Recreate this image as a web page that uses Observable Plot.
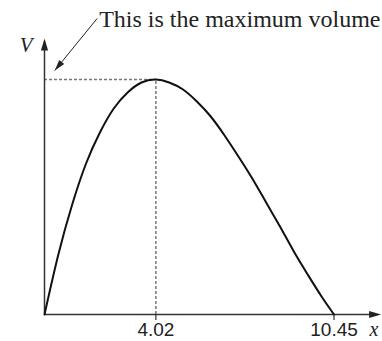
<!DOCTYPE html>
<html>
<head>
<meta charset="utf-8">
<script src="https://cdn.jsdelivr.net/npm/d3@7"></script>
<script src="https://cdn.jsdelivr.net/npm/@observablehq/plot@0.6"></script>
<style>
  html, body { margin: 0; padding: 0; background: #fff; }
  #chart svg { display: block; }
</style>
</head>
<body>
<div id="chart"></div>
<script>
// Curve V(x) (V in arbitrary volume units)
const xs = [0, 0.5, 1, 1.5, 2, 2.5, 3, 3.5, 4.02, 4.5, 5, 5.5, 6, 6.5, 7, 7.5, 8, 8.5, 9, 9.5, 10, 10.45];
const vs = [0, 60, 110, 151, 182, 206, 222, 232, 235, 232, 225, 213, 198, 179, 158, 136, 112, 88, 63, 40, 18, 0];

// Marked values
const tickValues = [4.02, 10.45];
const tickLabels = ["4.02", "10.45"];
const peakX = 4.02;
const peakV = 235;

// Axis extents (data units)
const xAxisEnd = 12.15;
const vAxisEnd = 276;

// Annotation
const noteText = "This is the maximum volume";
const noteFrom = [1.90, 296];
const noteTo = [0.37, 244];

const curve = xs.map((x, i) => ({x, V: vs[i]}));

const W = 382, H = 341, mL = 44, mR = 0, mT = 14, mB = 27;
const xDomain = [0, 12.2], yDomain = [0, 300];
const kx = (W - mL - mR) / (xDomain[1] - xDomain[0]);
const ky = (H - mT - mB) / (yDomain[1] - yDomain[0]);

function headSymbol(len, half) {
  return {draw(ctx) { ctx.moveTo(0, 0); ctx.lineTo(-half, len); ctx.lineTo(half, len); ctx.closePath(); }};
}
const axisHead = headSymbol(12, 3.6);
const noteHead = headSymbol(11, 3.2);
const sdx = (noteTo[0] - noteFrom[0]) * kx;
const sdy = -(noteTo[1] - noteFrom[1]) * ky;
const noteAngle = Math.atan2(sdx, -sdy) * 180 / Math.PI;

const axisColor = "#333";
const serif = "Liberation Serif, Times New Roman, serif";
const sans = "Liberation Sans, Arial, sans-serif";

const chart = Plot.plot({
  width: W, height: H,
  marginLeft: mL, marginRight: mR, marginTop: mT, marginBottom: mB,
  x: {domain: xDomain, axis: null},
  y: {domain: yDomain, axis: null},
  marks: [
    // dotted guides to the maximum
    Plot.ruleY([{x: peakX, V: peakV}], {y: "V", x1: 0, x2: "x", stroke: "#777", strokeWidth: 1.5, strokeDasharray: "3,2"}),
    Plot.ruleX([{x: peakX, V: peakV}], {x: "x", y1: 0, y2: "V", stroke: "#777", strokeWidth: 1.5, strokeDasharray: "3,2"}),
    // axes
    Plot.ruleY([0], {x1: 0, x2: xAxisEnd - 0.3, stroke: axisColor, strokeWidth: 1.5}),
    Plot.ruleX([0], {y1: 0, y2: vAxisEnd - 8, stroke: axisColor, strokeWidth: 1.5}),
    Plot.dot([{x: xAxisEnd, V: 0}], {x: "x", y: "V", symbol: axisHead, fill: "#222", stroke: "none", rotate: 90, r: 5}),
    Plot.dot([{x: 0, V: vAxisEnd}], {x: "x", y: "V", symbol: axisHead, fill: "#222", stroke: "none", rotate: 0, r: 5}),
    Plot.ruleX(tickValues, {x: d => d, y1: 0, y2: -6, stroke: axisColor, strokeWidth: 1.2}),
    Plot.text(tickValues, {x: d => d, y: 0, text: (d, i) => tickLabels[i], fontSize: 19, fontFamily: sans, fill: "#222", lineAnchor: "middle", dy: 15}),
    // curve
    Plot.line(curve, {x: "x", y: "V", curve: "natural", stroke: "#111", strokeWidth: 2}),
    // axis labels
    Plot.text(["x"], {frameAnchor: "bottom-right", textAnchor: "end", dx: -4, dy: 15.5, lineAnchor: "middle", fontSize: 20, fontStyle: "italic", fontFamily: serif, fill: "#222"}),
    Plot.text(["V"], {frameAnchor: "top-left", textAnchor: "end", dx: -12, dy: 30.3, lineAnchor: "middle", fontSize: 21, fontStyle: "italic", fontFamily: serif, fill: "#222"}),
    // annotation
    Plot.link([{x1: noteFrom[0], y1: noteFrom[1], x2: noteTo[0], y2: noteTo[1]}], {x1: "x1", y1: "y1", x2: "x2", y2: "y2", stroke: "#222", strokeWidth: 1}),
    Plot.dot([{x: noteTo[0], V: noteTo[1]}], {x: "x", y: "V", symbol: noteHead, fill: "#222", stroke: "none", rotate: noteAngle, r: 5}),
    Plot.text([noteText], {frameAnchor: "top-right", textAnchor: "end", dx: -2, dy: 5.3, lineAnchor: "middle", fontSize: 24, fontFamily: serif, fill: "#222"})
  ]
});
document.getElementById("chart").append(chart);
</script>
</body>
</html>
